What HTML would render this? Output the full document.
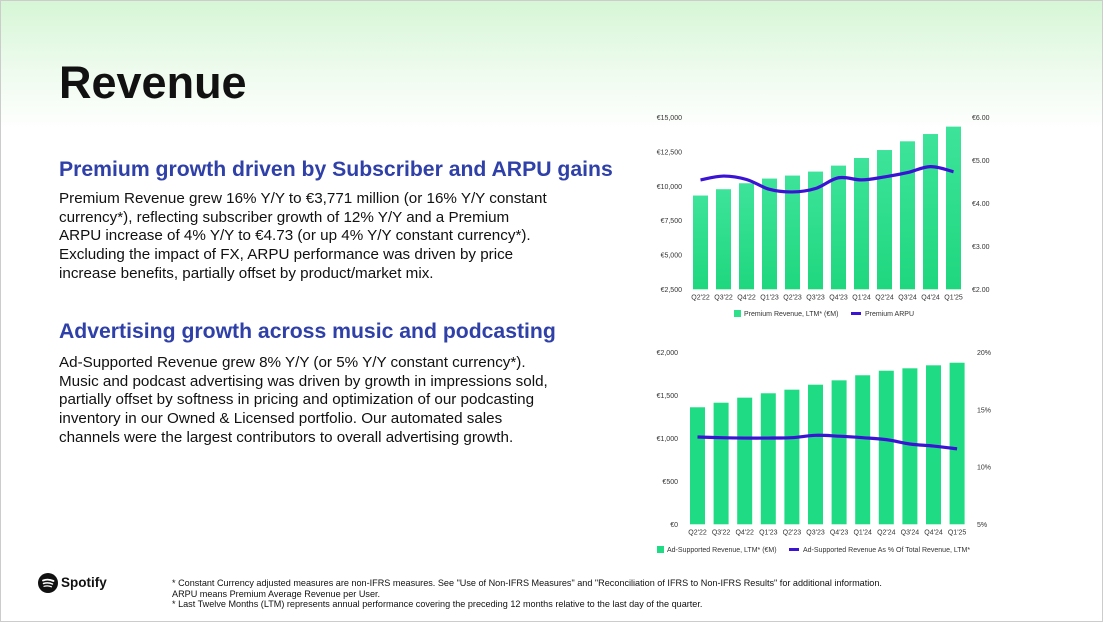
<!DOCTYPE html>
<html><head><meta charset="utf-8">
<style>
body{margin:0;}
#page{position:relative;width:1103px;height:622px;overflow:hidden;font-family:"Liberation Sans",Arial,sans-serif;background:linear-gradient(#d6f6d6 0px,#eefbee 70px,#fff 130px);box-sizing:border-box;border:1px solid #ccc;}
.abs{position:absolute;}
h1{position:absolute;left:58px;top:56px;margin:0;font-size:45px;font-weight:bold;color:#111;}
h2{position:absolute;margin:0;font-size:21.2px;font-weight:bold;color:#2f40a8;white-space:nowrap;}
.body{position:absolute;left:58px;font-size:15.2px;line-height:18.7px;color:#111;white-space:nowrap;}
.foot{position:absolute;left:171px;top:577px;font-size:9.1px;line-height:10.6px;color:#111;white-space:nowrap;}
svg text{font-family:"Liberation Sans",Arial,sans-serif;}
</style></head><body>
<div id="page">
<h1>Revenue</h1>
<h2 style="left:58px;top:157px">Premium growth driven by Subscriber and ARPU gains</h2>
<div class="body" style="top:189px">Premium Revenue grew 16% Y/Y to €3,771 million (or 16% Y/Y constant<br>currency*), reflecting subscriber growth of 12% Y/Y and a Premium<br>ARPU increase of 4% Y/Y to €4.73 (or up 4% Y/Y constant currency*).<br>Excluding the impact of FX, ARPU performance was driven by price<br>increase benefits, partially offset by product/market mix.</div>
<h2 style="left:58px;top:319px">Advertising growth across music and podcasting</h2>
<div class="body" style="top:353px">Ad-Supported Revenue grew 8% Y/Y (or 5% Y/Y constant currency*).<br>Music and podcast advertising was driven by growth in impressions sold,<br>partially offset by softness in pricing and optimization of our podcasting<br>inventory in our Owned &amp; Licensed portfolio. Our automated sales<br>channels were the largest contributors to overall advertising growth.</div>
<svg class="abs" style="left:0;top:0" width="1103" height="622" id="charts">
<defs><linearGradient id="g1" x1="0" y1="0" x2="0" y2="1"><stop offset="0" stop-color="#3de39a"/><stop offset="1" stop-color="#1fd77e"/></linearGradient></defs>
<g id="c1"></g>
<g id="c2"></g>
</svg>
<div class="abs" style="left:37px;top:572px;width:20px;height:20px;border-radius:50%;background:#111">
<svg width="20" height="20"><path d="M5 7.5 Q10 5.5 15.5 8" stroke="#fff" stroke-width="1.8" fill="none" stroke-linecap="round"/><path d="M5.5 10.5 Q10 9 14.5 11" stroke="#fff" stroke-width="1.5" fill="none" stroke-linecap="round"/><path d="M6 13.3 Q10 12.2 13.5 13.8" stroke="#fff" stroke-width="1.2" fill="none" stroke-linecap="round"/></svg></div>
<div class="abs" style="left:60px;top:574px;font-size:13.5px;font-weight:bold;color:#111">Spotify</div>
<div class="foot">* Constant Currency adjusted measures are non-IFRS measures. See "Use of Non-IFRS Measures" and "Reconciliation of IFRS to Non-IFRS Results" for additional information.<br>ARPU means Premium Average Revenue per User.<br>* Last Twelve Months (LTM) represents annual performance covering the preceding 12 months relative to the last day of the quarter.</div>
</div>
<script>
const categories=["Q2'22","Q3'22","Q4'22","Q1'23","Q2'23","Q3'23","Q4'23","Q1'24","Q2'24","Q3'24","Q4'24","Q1'25"];
const premiumRevenue=[9330,9790,10225,10566,10785,11075,11510,12065,12645,13280,13810,14350];
const premiumArpu=[4.55,4.64,4.56,4.33,4.27,4.35,4.60,4.55,4.62,4.72,4.86,4.74];
const premiumLeftTicks=[2500,5000,7500,10000,12500,15000];
const premiumRightTicks=[2,3,4,5,6];
const adRevenue=[1364,1417,1476,1527,1569,1627,1678,1737,1790,1818,1853,1883];
const adShare=[12.63,12.57,12.54,12.54,12.57,12.78,12.7,12.57,12.4,12.02,11.84,11.6];
const adLeftTicks=[0,500,1000,1500,2000];
const adRightTicks=[5,10,15,20];
const NS="http://www.w3.org/2000/svg";
function mk(p,t,a){const e=document.createElementNS(NS,t);for(const k in a)e.setAttribute(k,a[k]);p.appendChild(e);return e;}
function txt(p,x,y,s,anchor,size,name){const e=mk(p,'text',{x:x,y:y,'text-anchor':anchor,'font-size':size,fill:'#333'});e.textContent=s;


return e;}
function smooth(pts){let d='M'+pts[0][0]+','+pts[0][1];for(let i=1;i<pts.length;i++){const p0=pts[i-2]||pts[i-1],p1=pts[i-1],p2=pts[i],p3=pts[i+1]||p2;const t=0.18;d+=' C'+(p1[0]+(p2[0]-p0[0])*t)+','+(p1[1]+(p2[1]-p0[1])*t)+' '+(p2[0]-(p3[0]-p1[0])*t)+','+(p2[1]-(p3[1]-p1[1])*t)+' '+p2[0]+','+p2[1];}return d;}
function chart(g,o){
 const yL=v=>o.y0-(v-o.lmin)/(o.lmax-o.lmin)*(o.y0-o.y1);
 const yR=v=>o.y0-(v-o.rmin)/(o.rmax-o.rmin)*(o.y0-o.y1);
 const xC=i=>o.x0+i*o.step;
 o.lt.forEach(v=>txt(g,o.lx,yL(v)+2.5,o.lf(v),'end',7,'left-tick-label'));
 o.rt.forEach(v=>txt(g,o.rx,yR(v)+2.5,o.rf(v),'start',7,'right-tick-label'));
 o.bars.forEach((v,i)=>{const r=mk(g,'rect',{x:xC(i)-o.bw/2,y:yL(v),width:o.bw,height:o.y0-yL(v),fill:o.fill});
 
 
 txt(g,xC(i),o.y0+10,categories[i],'middle',7,'x-tick-label');});
 const pts=o.line.map((v,i)=>[xC(i),yR(v)]);
 const l=mk(g,'path',{d:smooth(pts),stroke:'#3a13d4',"stroke-width":3.2,fill:'none'});
 
 
 let lx=o.legX;
 mk(g,'rect',{x:lx,y:o.legY-6,width:7,height:7,fill:o.fill==='url(#g1)'?'#2ee08a':o.fill});
 txt(g,lx+10,o.legY,o.leg1,'start',7,'legend-bars');
 mk(g,'rect',{x:o.legX2,y:o.legY-4,width:10,height:3,fill:'#3a13d4'});
 txt(g,o.legX2+14,o.legY,o.leg2,'start',7,'legend-line');
}
chart(document.getElementById('c1'),{y0:288.3,y1:116.7,lmin:2500,lmax:15000,rmin:2,rmax:6,x0:699.5,step:23,bw:15,lx:681,rx:971,
 lt:premiumLeftTicks,rt:premiumRightTicks,lf:v=>'€'+v.toLocaleString('en-US'),rf:v=>'€'+v.toFixed(2),
 bars:premiumRevenue,line:premiumArpu,fill:'url(#g1)',legX:733,legY:315,leg1:'Premium Revenue, LTM* (€M)',legX2:850,leg2:'Premium ARPU'});
chart(document.getElementById('c2'),{y0:523.3,y1:351.7,lmin:0,lmax:2000,rmin:5,rmax:20,x0:696.5,step:23.6,bw:15,lx:677,rx:976,
 lt:adLeftTicks,rt:adRightTicks,lf:v=>'€'+v.toLocaleString('en-US'),rf:v=>v+'%',
 bars:adRevenue,line:adShare,fill:'#1fdc84',legX:656,legY:551,leg1:'Ad-Supported Revenue, LTM* (€M)',legX2:788,leg2:'Ad-Supported Revenue As % Of Total Revenue, LTM*'});
</script>
</body></html>
